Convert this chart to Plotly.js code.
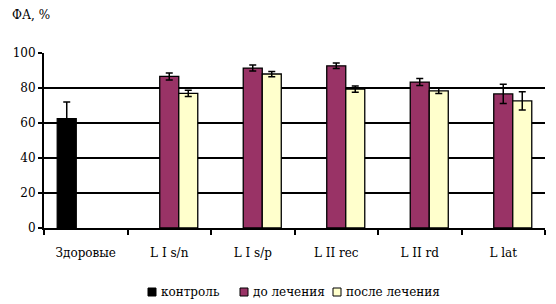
<!DOCTYPE html>
<html><head><meta charset="utf-8">
<script src="https://cdn.plot.ly/plotly-3.0.1.min.js"></script>
<style>body{margin:0;background:#fff}#c{width:556px;height:304px}</style>
</head><body><div id="c"></div>
<script>
const categories = ["Здоровые", "L I s/n", "L I s/p", "L II rec", "L II rd", "L lat"];
const control = [62.5, null, null, null, null, null];
const controlErr = [9.5, 0, 0, 0, 0, 0];
const before = [null, 86.6, 91.4, 92.7, 83.4, 76.6];
const beforeErr = [0, 2.0, 1.7, 1.6, 2.0, 5.5];
const after = [null, 76.9, 88.0, 79.4, 78.3, 72.6];
const afterErr = [0, 1.8, 1.5, 1.8, 1.5, 5.2];
const seriesNames = ["контроль", "до лечения", "после лечения"];
const seriesColors = ["#000000", "#993366", "#FFFFCC"];
const yTicks = [0, 20, 40, 60, 80, 100];

const W = 556, H = 304, M = {l: 44, r: 11, t: 53, b: 76};
const font = {family: "DejaVu Serif", size: 12, color: "#000"};
function tr(name, y, err, color) {
  return {
    type: "bar", name: name, x: categories, y: y,
    marker: {color: color, line: {color: "#000", width: 1.3}},
    error_y: {type: "data", array: err, visible: true, color: "#000", thickness: 1.5, width: 3.5},
    hoverinfo: "none", showlegend: false
  };
}
const data = [
  tr(seriesNames[0], control, controlErr, seriesColors[0]),
  tr(seriesNames[1], before, beforeErr, seriesColors[1]),
  tr(seriesNames[2], after, afterErr, seriesColors[2])
];
// custom legend (pixel layout converted to paper coords)
const pw = W - M.l - M.r, ph = H - M.t - M.b;
const px = x => (x - M.l) / pw, py = y => (H - M.b - y) / ph;
const legX = [148, 240, 333];
const shapes = [], annotations = [];
seriesNames.forEach((n, i) => {
  shapes.push({type: "rect", xref: "paper", yref: "paper",
    x0: px(legX[i]), x1: px(legX[i] + 8), y0: py(296), y1: py(288),
    fillcolor: seriesColors[i], line: {color: "#000", width: 1}});
  annotations.push({xref: "paper", yref: "paper", x: px(legX[i] + 11), y: py(292),
    xanchor: "left", yanchor: "middle", text: n, showarrow: false, font: font});
});
const layout = {
  width: W, height: H, margin: M,
  paper_bgcolor: "#fff", plot_bgcolor: "#fff",
  font: font,
  barmode: "group", bargap: 0.317, bargroupgap: 0,
  showlegend: false,
  shapes: shapes, annotations: annotations,
  title: {text: "ФА, %", font: font, x: 12/556, xref: "container", xanchor: "left", y: 1 - 15/304, yref: "container", yanchor: "middle"},
  xaxis: {
    type: "category", showline: true, linecolor: "#000", linewidth: 2,
    ticks: "outside", tickson: "boundaries", ticklen: 5, tickwidth: 2, tickcolor: "#000",
    showgrid: false, tickfont: font, ticklabelstandoff: 13
  },
  yaxis: {
    range: [0, 100], tickvals: yTicks, ticktext: yTicks.map(String),
    showline: true, linecolor: "#000", linewidth: 2,
    ticks: "outside", ticklen: 4, tickwidth: 2, tickcolor: "#000",
    showgrid: true, gridcolor: "#000", gridwidth: 1.3, zeroline: false,
    tickfont: font
  }
};
Plotly.newPlot("c", data, layout, {staticPlot: true, displayModeBar: false});
</script></body></html>
